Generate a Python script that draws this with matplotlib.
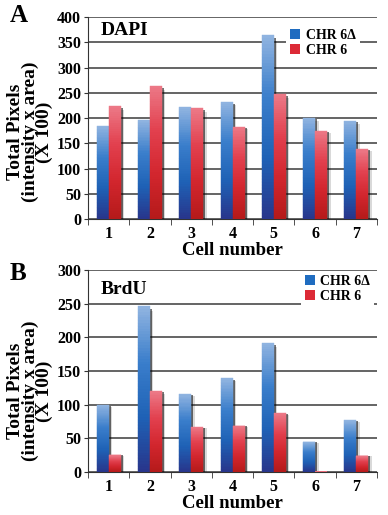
import matplotlib
matplotlib.use("Agg")
import matplotlib.pyplot as plt
import numpy as np
from matplotlib.patches import Patch
from matplotlib.colors import LinearSegmentedColormap

cells = ["1", "2", "3", "4", "5", "6", "7"]
dapi_del = [185, 196, 221, 232, 364, 201, 195]
dapi_chr6 = [223, 264, 219, 183, 247, 175, 138]
brdu_del = [100, 246, 116, 139, 192, 45, 77]
brdu_chr6 = [25, 120, 67, 69, 88, 0, 24]
series_labels = ["CHR 6\u0394", "CHR 6"]

plt.rcParams['font.family'] = ['Liberation Serif', 'DejaVu Serif']
plt.rcParams['font.weight'] = 'bold'

fig = plt.figure(figsize=(3.88, 5.15), dpi=100)

blue_cmap = LinearSegmentedColormap.from_list("b", ["#28368c", "#1f62b6", "#3a7ecb", "#8fb3e0"])
red_cmap = LinearSegmentedColormap.from_list("r", ["#b51a1a", "#d2262e", "#e2404e", "#ec7886"])


def panel(rect, a, b, ymax, label, letter, leg_anchor, label_y, ylab_y, letter_off):
    ax = fig.add_axes(rect)
    x = np.arange(len(cells))
    w = 0.29
    nslices = 60
    for vals, off, cmap in [(a, -w / 2, blue_cmap), (b, w / 2, red_cmap)]:
        vals = np.asarray(vals, dtype=float)
        # shadows
        ax.bar(x + off + 0.05, vals * 0.985, w, color="#000000", alpha=0.55,
               zorder=2, linewidth=0)
        ax.bar(x + off + 0.085, vals * 0.97, w, color="#000000", alpha=0.15,
               zorder=2, linewidth=0)
        for k in range(nslices):
            c = cmap(k / (nslices - 1))
            ax.bar(x + off, vals / nslices, w, bottom=vals * k / nslices,
                   color=c, edgecolor=c, linewidth=0.3, zorder=3)
    ax.set_xlim(-0.5, len(cells) - 0.5)
    ax.set_ylim(0, ymax)
    ax.yaxis.grid(True, color="#4a4a4a", linewidth=1.2)
    ax.set_axisbelow(True)
    for s in ["top", "right"]:
        ax.spines[s].set_visible(False)
    ax.spines["left"].set_color("#333333")
    ax.spines["bottom"].set_color("#333333")
    ax.set_xticks(x)
    ax.set_xticklabels(cells, fontsize=11.5, fontweight="bold")
    ax.set_xticks(np.arange(-0.5, len(cells)), minor=True)
    ax.tick_params(axis="x", which="major", length=0, pad=5)
    ax.tick_params(axis="x", which="minor", length=4, color="#333333")
    ax.set_yticks(np.arange(0, ymax + 1, 50))
    ax.tick_params(axis="y", length=3, color="#333333", labelsize=11.5, pad=2)
    for t in ax.get_yticklabels():
        t.set_fontweight("bold")
    ax.set_xlabel("Cell number", fontsize=13.5, fontweight="bold", labelpad=0)
    ax.set_ylabel("Total Pixels\n(intensity x area)\n(X 100)", fontsize=14,
                  fontweight="bold", linespacing=0.8)
    ax.yaxis.set_label_coords(-0.12, ylab_y)
    ax.text(0.045, label_y, label, transform=ax.transAxes, fontsize=14,
            fontweight="bold", va="top", ha="left")
    handles = [Patch(facecolor="#1f6cc0"), Patch(facecolor="#dc2a36")]
    leg = ax.legend(handles, series_labels, loc="upper right",
                    bbox_to_anchor=leg_anchor, frameon=True, fontsize=10,
                    handlelength=0.7, handleheight=0.7, handletextpad=0.4,
                    labelspacing=0.15, borderpad=0.2, borderaxespad=0.0)
    leg.get_frame().set_facecolor("white")
    leg.get_frame().set_edgecolor("none")
    leg.get_frame().set_alpha(1)
    leg.get_frame().set_boxstyle("square", pad=0.1)
    for t in leg.get_texts():
        t.set_fontweight("bold")
    leg.set_zorder(10)
    fig.text(0.025, rect[1] + rect[3] + letter_off, letter, fontsize=18,
             fontweight="bold", va="top", ha="left")
    return ax


panel([0.2268, 0.5748, 0.745, 0.392], dapi_del, dapi_chr6, 400, "DAPI", "A",
      (0.935, 0.955), 0.975, 0.43, 0.025)
panel([0.2268, 0.0835, 0.745, 0.392], brdu_del, brdu_chr6, 300, "BrdU", "B",
      (0.985, 0.99), 0.945, 0.40, 0.015)

fig.savefig("out.png", dpi=100)
